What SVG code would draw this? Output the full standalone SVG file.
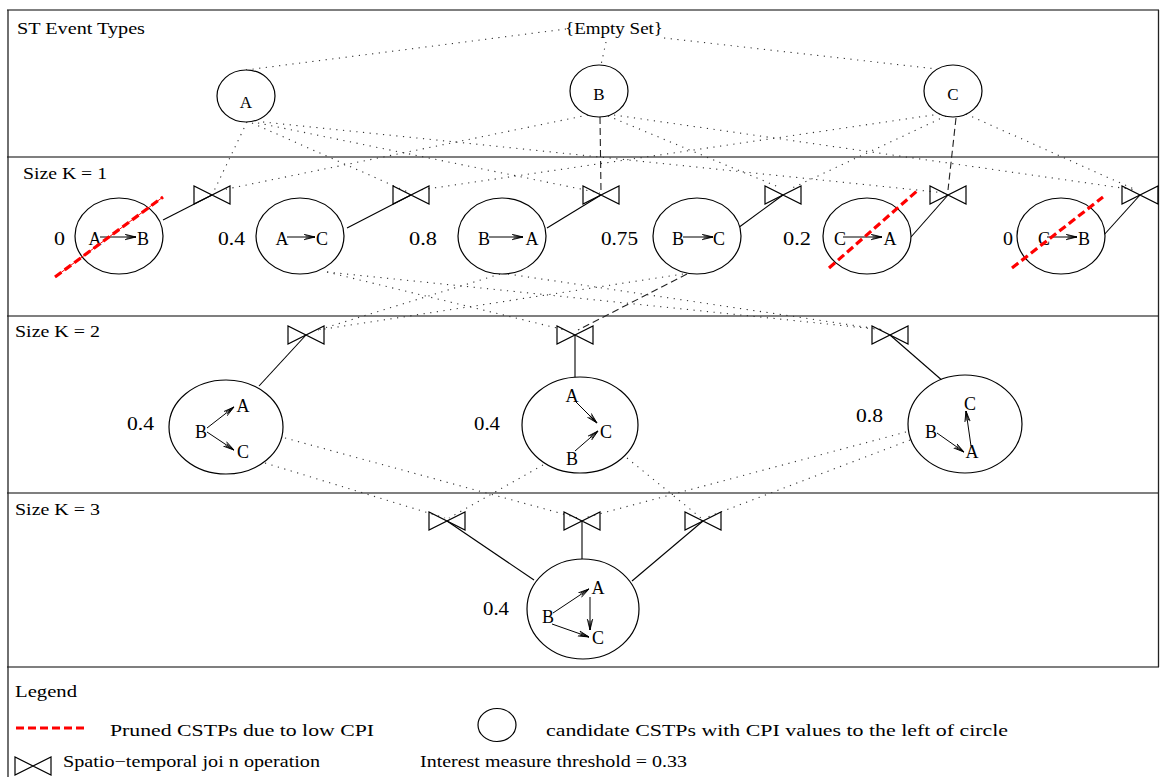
<svg xmlns="http://www.w3.org/2000/svg" xmlns:xlink="http://www.w3.org/1999/xlink" width="1165" height="777" viewBox="0 0 1165 777">
  <style>
    .t { font-family: "Liberation Serif", "Times New Roman", serif; font-size: 17px; fill: #000; }
    .v { font-size: 19px; }
    .l { font-size: 18px; }
    .c { text-anchor: middle; }
    .node { fill: #fff; stroke: #000; stroke-width: 1.2; }
    .bt { fill: none; stroke: #000; stroke-width: 1.2; stroke-linejoin: miter; }
    .dot { fill: none; stroke: #333; stroke-width: 1.1; stroke-dasharray: 1.2 5.5; }
    .dash { fill: none; stroke: #222; stroke-width: 1.1; stroke-dasharray: 7 4; }
    .solid { fill: none; stroke: #000; stroke-width: 1.1; }
    .arr { fill: none; stroke: #000; stroke-width: 1; marker-end: url(#head); }
    .prune { fill: none; stroke: #ff0000; stroke-width: 3.2; stroke-dasharray: 8 4; }
    .prune-thin { fill: none; stroke: #ff0000; stroke-width: 1; }
    .frame-h { stroke: #555; stroke-width: 1.6; }
    .frame-v { stroke: #222; stroke-width: 1.3; }
  </style>
  <defs>
    <marker id="head" markerWidth="13" markerHeight="8" refX="11" refY="3.5" orient="auto" markerUnits="userSpaceOnUse">
      <path d="M0,0.8 L11,3.5 L0,6.2 M1.5,2.2 L11,3.5 L1.5,4.8" fill="none" stroke="#000" stroke-width="0.9"/>
    </marker>
    <path id="bowtie" d="M-18,-9 V9 L18,-9 V9 Z"/>
  </defs>

  <rect x="0" y="0" width="1165" height="777" fill="#fff"/>

  <!-- frame and level separators -->
  <g id="frame">
    <line class="frame-h" x1="7" y1="10" x2="1159" y2="10"/>
    <line class="frame-h" x1="7" y1="157" x2="1159" y2="157"/>
    <line class="frame-h" x1="7" y1="316" x2="1159" y2="316"/>
    <line class="frame-h" x1="7" y1="493" x2="1159" y2="493"/>
    <line class="frame-h" x1="7" y1="667" x2="1159" y2="667"/>
    <line class="frame-v" x1="8" y1="10" x2="8" y2="777"/>
    <line class="frame-v" x1="1158.5" y1="10" x2="1158.5" y2="667"/>
  </g>

  <!-- level captions -->
  <g id="captions">
    <text class="t" x="17" y="34" textLength="128" lengthAdjust="spacingAndGlyphs">ST Event Types</text>
    <text class="t" x="23" y="179" textLength="84" lengthAdjust="spacingAndGlyphs">Size K = 1</text>
    <text class="t" x="15" y="337" textLength="85" lengthAdjust="spacingAndGlyphs">Size K = 2</text>
    <text class="t" x="15" y="515" textLength="85" lengthAdjust="spacingAndGlyphs">Size K = 3</text>
  </g>

  <!-- connectors -->
  <g id="connectors">
    <!-- empty set to event types -->
    <line class="dot" x1="566" y1="29" x2="246" y2="70"/>
    <line class="dot" x1="606" y1="42" x2="601" y2="65"/>
    <line class="dot" x1="664" y1="38" x2="937" y2="69"/>
    <!-- event A to size-1 joins -->
    <line class="dot" x1="247" y1="122" x2="213" y2="193"/>
    <line class="dot" x1="252" y1="123" x2="410" y2="193"/>
    <line class="dot" x1="258" y1="123" x2="600" y2="193"/>
    <line class="dot" x1="263" y1="122" x2="946" y2="193"/>
    <!-- event B to size-1 joins -->
    <line class="dash" x1="600" y1="117" x2="601" y2="192"/>
    <line class="dot" x1="588" y1="115" x2="222" y2="190"/>
    <line class="dot" x1="608" y1="116" x2="781" y2="188"/>
    <line class="dot" x1="614" y1="115" x2="1136" y2="190"/>
    <!-- event C to size-1 joins -->
    <line class="dash" x1="956" y1="118" x2="948" y2="190"/>
    <line class="dot" x1="940" y1="114" x2="420" y2="190"/>
    <line class="dot" x1="946" y1="116" x2="790" y2="189"/>
    <line class="dot" x1="966" y1="114" x2="1136" y2="190"/>
    <!-- size-1 joins to their patterns -->
    <line class="solid" x1="163" y1="220" x2="212" y2="195"/>
    <line class="solid" x1="347" y1="228" x2="411" y2="195"/>
    <line class="solid" x1="547" y1="228" x2="601" y2="195"/>
    <line class="solid" x1="738" y1="228" x2="783" y2="195"/>
    <line class="solid" x1="911" y1="237" x2="948" y2="195"/>
    <line class="solid" x1="1103" y1="236" x2="1140" y2="195"/>
    <!-- size-1 patterns to size-2 joins -->
    <line class="dot" x1="327" y1="272" x2="565" y2="330"/>
    <line class="dot" x1="327" y1="272" x2="885" y2="330"/>
    <line class="dot" x1="500" y1="274" x2="318" y2="330"/>
    <line class="dot" x1="508" y1="274" x2="885" y2="330"/>
    <line class="dash" x1="687" y1="274" x2="578" y2="330"/>
    <line class="dot" x1="683" y1="274" x2="318" y2="330"/>
    <!-- size-2 joins to their patterns -->
    <line class="solid" x1="306" y1="335" x2="259" y2="386"/>
    <line class="solid" x1="575" y1="335" x2="575" y2="378"/>
    <line class="solid" x1="890" y1="335" x2="944" y2="382"/>
    <!-- size-2 patterns to size-3 joins -->
    <line class="dot" x1="265" y1="463" x2="445" y2="518"/>
    <line class="dot" x1="543" y1="465" x2="449" y2="518"/>
    <line class="dot" x1="285" y1="438" x2="578" y2="518"/>
    <line class="dot" x1="906" y1="432" x2="584" y2="518"/>
    <line class="dot" x1="627" y1="458" x2="701" y2="518"/>
    <line class="dot" x1="910" y1="440" x2="705" y2="518"/>
    <!-- size-3 joins to the final pattern -->
    <line class="solid" x1="447" y1="521" x2="534" y2="580"/>
    <line class="solid" x1="582" y1="521" x2="582" y2="559"/>
    <line class="solid" x1="703" y1="521" x2="632" y2="581"/>
  </g>

  <!-- event types -->
  <g id="empty-set">
    <text class="t" x="565" y="34" textLength="98" lengthAdjust="spacingAndGlyphs">{Empty Set}</text>
  </g>
  <g id="event-A">
    <ellipse class="node" cx="246" cy="96" rx="29" ry="26"/>
    <text class="t c" x="246" y="108">A</text>
  </g>
  <g id="event-B">
    <ellipse class="node" cx="599" cy="91" rx="29" ry="26"/>
    <text class="t c" x="599" y="100">B</text>
  </g>
  <g id="event-C">
    <ellipse class="node" cx="953" cy="91" rx="29" ry="26"/>
    <text class="t c" x="953" y="100">C</text>
  </g>

  <!-- size-1 joins -->
  <g id="join-AB"><use xlink:href="#bowtie" href="#bowtie" class="bt" x="212" y="195"/></g>
  <g id="join-AC"><use xlink:href="#bowtie" href="#bowtie" class="bt" x="411" y="195"/></g>
  <g id="join-BA"><use xlink:href="#bowtie" href="#bowtie" class="bt" x="601" y="195"/></g>
  <g id="join-BC"><use xlink:href="#bowtie" href="#bowtie" class="bt" x="783" y="195"/></g>
  <g id="join-CA"><use xlink:href="#bowtie" href="#bowtie" class="bt" x="948" y="195"/></g>
  <g id="join-CB"><use xlink:href="#bowtie" href="#bowtie" class="bt" x="1140" y="195"/></g>

  <!-- size-1 patterns -->
  <g id="p-AB">
    <ellipse class="node" cx="119" cy="236" rx="44" ry="38"/>
    <text class="t v" x="54" y="245" textLength="11" lengthAdjust="spacingAndGlyphs">0</text>
    <text class="t l c" x="95" y="245">A</text>
    <line class="arr" x1="100" y1="237" x2="136" y2="237"/>
    <text class="t l c" x="143" y="245">B</text>
    <line class="prune-thin" x1="55" y1="277" x2="163" y2="197"/>
    <line class="prune" x1="55" y1="277" x2="163" y2="197"/>
  </g>
  <g id="p-AC">
    <ellipse class="node" cx="300" cy="236" rx="44" ry="38"/>
    <text class="t v" x="218" y="245" textLength="27" lengthAdjust="spacingAndGlyphs">0.4</text>
    <text class="t l c" x="282" y="245">A</text>
    <line class="arr" x1="287" y1="237" x2="315" y2="237"/>
    <text class="t l c" x="322" y="245">C</text>
  </g>
  <g id="p-BA">
    <ellipse class="node" cx="502" cy="236" rx="44" ry="38"/>
    <text class="t v" x="409" y="245" textLength="28" lengthAdjust="spacingAndGlyphs">0.8</text>
    <text class="t l c" x="484" y="245">B</text>
    <line class="arr" x1="489" y1="237" x2="523" y2="237"/>
    <text class="t l c" x="532" y="245">A</text>
  </g>
  <g id="p-BC">
    <ellipse class="node" cx="697" cy="236" rx="44" ry="38"/>
    <text class="t v" x="601" y="245" textLength="37" lengthAdjust="spacingAndGlyphs">0.75</text>
    <text class="t l c" x="678" y="245">B</text>
    <line class="arr" x1="683" y1="237" x2="713" y2="237"/>
    <text class="t l c" x="719" y="245">C</text>
  </g>
  <g id="p-CA">
    <ellipse class="node" cx="867" cy="236" rx="44" ry="38"/>
    <text class="t v" x="783" y="245" textLength="28" lengthAdjust="spacingAndGlyphs">0.2</text>
    <text class="t l c" x="840" y="245">C</text>
    <line class="arr" x1="843" y1="237" x2="882" y2="237"/>
    <text class="t l c" x="890" y="245">A</text>
    <line class="prune" x1="829" y1="268" x2="917" y2="191"/>
  </g>
  <g id="p-CB">
    <ellipse class="node" cx="1061" cy="236" rx="44" ry="38"/>
    <text class="t v" x="1003" y="245" textLength="10" lengthAdjust="spacingAndGlyphs">0</text>
    <text class="t l c" x="1044" y="245">C</text>
    <line class="arr" x1="1047" y1="237" x2="1077" y2="237"/>
    <text class="t l c" x="1084" y="245">B</text>
    <line class="prune" x1="1012" y1="268" x2="1103" y2="197"/>
  </g>

  <!-- size-2 joins -->
  <g id="join-2a"><use xlink:href="#bowtie" href="#bowtie" class="bt" x="306" y="335"/></g>
  <g id="join-2b"><use xlink:href="#bowtie" href="#bowtie" class="bt" x="575" y="335"/></g>
  <g id="join-2c"><use xlink:href="#bowtie" href="#bowtie" class="bt" x="890" y="335"/></g>

  <!-- size-2 patterns -->
  <g id="p-BA-BC">
    <ellipse class="node" cx="226" cy="427" rx="57" ry="47"/>
    <text class="t v" x="127" y="430" textLength="27" lengthAdjust="spacingAndGlyphs">0.4</text>
    <text class="t l c" x="243" y="412">A</text>
    <text class="t l c" x="201" y="438">B</text>
    <text class="t l c" x="243" y="458">C</text>
    <line class="arr" x1="207" y1="428" x2="234" y2="407"/>
    <line class="arr" x1="207" y1="432" x2="234" y2="450"/>
  </g>
  <g id="p-AC-BC">
    <ellipse class="node" cx="580" cy="425" rx="58" ry="48"/>
    <text class="t v" x="474" y="430" textLength="26" lengthAdjust="spacingAndGlyphs">0.4</text>
    <text class="t l c" x="572" y="402">A</text>
    <text class="t l c" x="606" y="438">C</text>
    <text class="t l c" x="572" y="465">B</text>
    <line class="arr" x1="576" y1="402" x2="597" y2="423"/>
    <line class="arr" x1="575" y1="451" x2="598" y2="431"/>
  </g>
  <g id="p-BA-AC">
    <ellipse class="node" cx="965" cy="424" rx="57" ry="49"/>
    <text class="t v" x="856" y="422" textLength="27" lengthAdjust="spacingAndGlyphs">0.8</text>
    <text class="t l c" x="970" y="410">C</text>
    <text class="t l c" x="931" y="438">B</text>
    <text class="t l c" x="972" y="458">A</text>
    <line class="arr" x1="937" y1="433" x2="964" y2="452"/>
    <line class="arr" x1="971" y1="446" x2="966" y2="411"/>
  </g>

  <!-- size-3 joins -->
  <g id="join-3a"><use xlink:href="#bowtie" href="#bowtie" class="bt" x="447" y="521"/></g>
  <g id="join-3b"><use xlink:href="#bowtie" href="#bowtie" class="bt" x="582" y="521"/></g>
  <g id="join-3c"><use xlink:href="#bowtie" href="#bowtie" class="bt" x="703" y="521"/></g>

  <!-- size-3 pattern -->
  <g id="p-BA-BC-AC">
    <ellipse class="node" cx="583" cy="609" rx="56" ry="50"/>
    <text class="t v" x="483" y="615" textLength="26" lengthAdjust="spacingAndGlyphs">0.4</text>
    <text class="t l c" x="598" y="594">A</text>
    <text class="t l c" x="548" y="623">B</text>
    <text class="t l c" x="598" y="644">C</text>
    <line class="arr" x1="553" y1="613" x2="589" y2="589"/>
    <line class="arr" x1="590" y1="597" x2="590" y2="630"/>
    <line class="arr" x1="552" y1="624" x2="589" y2="637"/>
  </g>

  <!-- legend -->
  <g id="legend">
    <text class="t" x="15" y="697" textLength="62" lengthAdjust="spacingAndGlyphs">Legend</text>
    <line class="prune" x1="16" y1="728" x2="84" y2="728" stroke-dasharray="8 5"/>
    <text class="t" x="110" y="736" textLength="264" lengthAdjust="spacingAndGlyphs">Pruned CSTPs due to low CPI</text>
    <ellipse class="node" cx="497" cy="725" rx="19" ry="16.5"/>
    <text class="t" x="546" y="736" textLength="462" lengthAdjust="spacingAndGlyphs">candidate CSTPs with CPI values to the left of circle</text>
    <use xlink:href="#bowtie" href="#bowtie" class="bt" x="33" y="766"/>
    <text class="t" x="63" y="767" textLength="257" lengthAdjust="spacingAndGlyphs">Spatio−temporal joi n operation</text>
    <text class="t" x="420" y="767" textLength="267" lengthAdjust="spacingAndGlyphs">Interest measure threshold = 0.33</text>
  </g>
</svg>
